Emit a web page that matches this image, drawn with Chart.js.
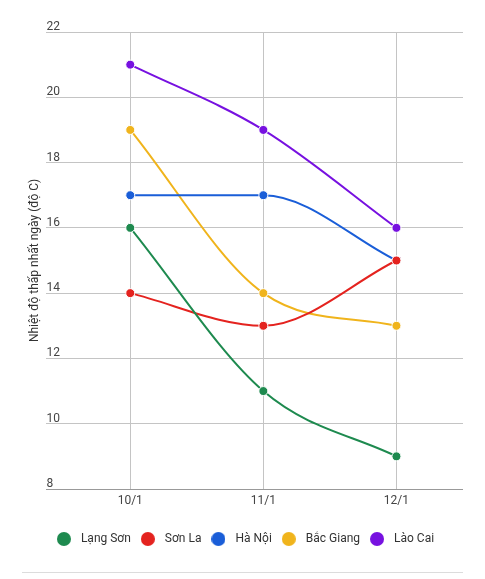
<!DOCTYPE html>
<html>
<head>
<meta charset="utf-8">
<script src="https://cdn.jsdelivr.net/npm/chart.js@4"></script>
<style>
  html, body { margin: 0; padding: 0; background: #fff; }
  #wrap { position: relative; width: 485px; height: 579px; }
  #sep { position: absolute; left: 22px; top: 572px; width: 441px; height: 1px; background: #dcdcdc; }
</style>
</head>
<body>
<div id="wrap">
  <canvas id="trendChart" width="485" height="579"></canvas>
  <div id="sep"></div>
</div>
<script>
const categories = ['10/1', '11/1', '12/1'];
const seriesNames = ['Lạng Sơn', 'Sơn La', 'Hà Nội', 'Bắc Giang', 'Lào Cai'];
const langSon = [16, 11, 9];
const sonLa = [14, 13, 15];
const haNoi = [17, 17, 15];
const bacGiang = [19, 14, 13];
const laoCai = [21, 19, 16];
const yTicks = [8, 10, 12, 14, 16, 18, 20, 22];

const colors = ['#1e8a4f', '#e4231f', '#1a5ed8', '#f0b41c', '#7711e0'];
const values = [langSon, sonLa, haNoi, bacGiang, laoCai];

// round legend markers drawn on small canvases
function dot(color) {
  const c = document.createElement('canvas');
  c.width = 14; c.height = 14;
  const g = c.getContext('2d');
  g.fillStyle = color;
  g.beginPath();
  g.arc(7, 7, 7, 0, Math.PI * 2);
  g.fill();
  return c;
}
const dots = colors.map(dot);

Chart.defaults.font.family = 'Roboto, Arial, sans-serif';

new Chart(document.getElementById('trendChart'), {
  type: 'line',
  data: {
    datasets: seriesNames.map((name, i) => ({
      label: name,
      data: values[i].map((v, j) => ({ x: j, y: v })),
      borderColor: colors[i],
      backgroundColor: colors[i],
      pointBackgroundColor: colors[i],
      pointBorderColor: '#fff',
      pointBorderWidth: 1,
      pointRadius: 4.5,
      borderWidth: 2,
      cubicInterpolationMode: 'monotone',
      fill: false
    }))
  },
  options: {
    responsive: false,
    animation: false,
    layout: { padding: { top: 32, left: 24, right: 22, bottom: 24 } },
    plugins: {
      tooltip: { enabled: false },
      legend: {
        position: 'bottom',
        labels: {
          usePointStyle: true,
          pointStyleWidth: 22,
          padding: 6,
          color: '#333',
          font: { size: 12 },
          generateLabels(chart) {
            const items = Chart.defaults.plugins.legend.labels.generateLabels(chart);
            items.forEach((it, i) => { it.pointStyle = dots[i]; });
            return items;
          }
        }
      }
    },
    scales: {
      x: {
        type: 'linear',
        min: -0.63,
        max: 2.5,
        afterBuildTicks(scale) { scale.ticks = categories.map((c, i) => ({ value: i })); },
        afterFit(scale) { scale.height = 38; },
        ticks: {
          callback: v => categories[v],
          color: '#444',
          font: { size: 12 },
          padding: 5
        },
        grid: { color: '#c4c4c4', drawTicks: false },
        border: { display: false }
      },
      y: {
        min: 8,
        max: 22,
        afterBuildTicks(scale) { scale.ticks = yTicks.map(v => ({ value: v })); },
        ticks: {
          mirror: true,
          padding: 0,
          labelOffset: -5,
          color: '#444',
          font: { size: 12 }
        },
        grid: {
          color: ctx => ctx.tick && ctx.tick.value === 8 ? '#999' : '#c4c4c4',
          drawTicks: false
        },
        border: { display: false },
        title: {
          display: true,
          text: 'Nhiệt độ thấp nhất ngày (độ C)',
          color: '#333',
          font: { size: 12 },
          padding: 4
        }
      }
    }
  }
});
</script>
</body>
</html>
